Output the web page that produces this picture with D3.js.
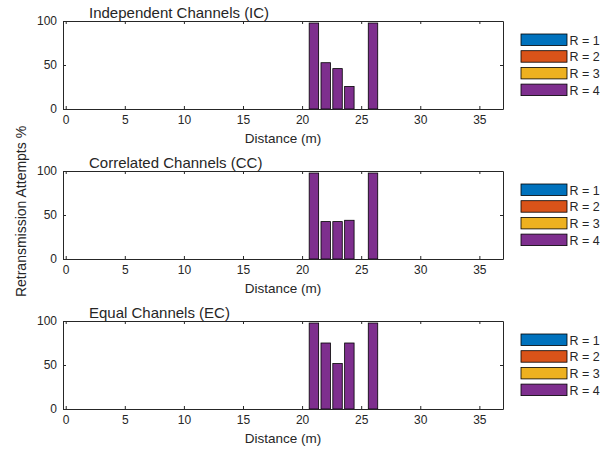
<!DOCTYPE html>
<html>
<head>
<meta charset="utf-8">
<script src="https://cdn.jsdelivr.net/npm/d3@7"></script>
<style>
  body { margin: 0; background: #fff; }
  text { font-family: "Liberation Sans", Arial, sans-serif; fill: #262626; }
  .tick text { font-size: 12px; }
  .domain, .tick line { stroke: #262626; }
</style>
</head>
<body>
<div id="chart"></div>
<script>
// data
var distances = [21, 22, 23, 24, 26];
var seriesNames = ["R = 1", "R = 2", "R = 3", "R = 4"];
var seriesColors = ["#0072BD", "#D95319", "#EDB120", "#7E2F8E"];
var titles = ["Independent Channels (IC)", "Correlated Channels (CC)", "Equal Channels (EC)"];

// R = 1..3 are zero everywhere, only R = 4 shows
var icR1 = [0, 0, 0, 0, 0], icR2 = [0, 0, 0, 0, 0], icR3 = [0, 0, 0, 0, 0];
var icR4 = [97.7, 52.6, 45.9, 25.6, 97.7];
var ccR1 = [0, 0, 0, 0, 0], ccR2 = [0, 0, 0, 0, 0], ccR3 = [0, 0, 0, 0, 0];
var ccR4 = [97.7, 42.5, 42.5, 44, 97.7];
var ecR1 = [0, 0, 0, 0, 0], ecR2 = [0, 0, 0, 0, 0], ecR3 = [0, 0, 0, 0, 0];
var ecR4 = [97.7, 75, 51.6, 75, 97.7];

var xTicks = [0, 5, 10, 15, 20, 25, 30, 35];
var yTicks = [0, 50, 100];

var panels = [
    [icR1, icR2, icR3, icR4],
    [ccR1, ccR2, ccR3, ccR4],
    [ecR1, ecR2, ecR3, ecR4]
];

var width = 613, height = 452;
var margin = {left: 63, right: 110};
var plotH = 88;
var tops = [21, 171, 321];
var barWidth = 0.8;

const svg = d3.select("#chart")
    .append("svg")
    .attr("width", width)
    .attr("height", height);

var xScale = d3.scaleLinear()
    .domain([-0.23, 37])
    .range([margin.left, width - margin.right]);

panels.forEach(function(series, p) {
    var top = tops[p];
    var yScale = d3.scaleLinear()
        .domain([0, 100])
        .range([top + plotH, top]);

    // build table for stacking
    var rows = distances.map(function(d, i) {
        var row = {dist: d};
        seriesNames.forEach(function(name, s) { row[name] = series[s][i]; });
        return row;
    });
    var stacked = d3.stack().keys(seriesNames)(rows);

    var g = svg.append("g");

    // bars
    stacked.forEach(function(layer, s) {
        g.selectAll(null)
            .data(layer.filter(function(d) { return d[1] - d[0] > 0; }))
            .enter()
            .append("rect")
            .attr("x", function(d) { return xScale(d.data.dist - barWidth / 2); })
            .attr("y", function(d) { return yScale(d[1]); })
            .attr("width", xScale(barWidth) - xScale(0))
            .attr("height", function(d) { return yScale(d[0]) - yScale(d[1]); })
            .attr("fill", seriesColors[s])
            .attr("stroke", "#000")
            .attr("stroke-width", 0.8);
    });

    // axes, ticks inward like matlab
    var x0 = xScale.range()[0], x1 = xScale.range()[1];
    g.append("g")
        .attr("transform", `translate(0, ${top + plotH})`)
        .call(d3.axisBottom(xScale).tickValues(xTicks).tickSizeInner(-3).tickSizeOuter(0).tickPadding(6));
    g.append("g")
        .attr("transform", `translate(0, ${top})`)
        .call(d3.axisTop(xScale).tickValues(xTicks).tickSizeInner(-3).tickSizeOuter(0).tickFormat(""));
    g.append("g")
        .attr("transform", `translate(${x0}, 0)`)
        .call(d3.axisLeft(yScale).tickValues(yTicks).tickSizeInner(-3).tickSizeOuter(0).tickPadding(6));
    g.append("g")
        .attr("transform", `translate(${x1}, 0)`)
        .call(d3.axisRight(yScale).tickValues(yTicks).tickSizeInner(-3).tickSizeOuter(0).tickFormat(""));

    g.selectAll(".domain").attr("stroke-width", 1);

    // title
    g.append("text")
        .attr("x", 89)
        .attr("y", top - 3)
        .style("font-size", "15px")
        .text(titles[p]);

    // x label
    g.append("text")
        .attr("x", (x0 + x1) / 2)
        .attr("y", top + plotH + 34)
        .attr("text-anchor", "middle")
        .style("font-size", "13.5px")
        .text("Distance (m)");

    // legend
    var leg = g.append("g")
        .attr("transform", `translate(521, ${top + 13})`);
    seriesNames.forEach(function(name, s) {
        leg.append("rect")
            .attr("x", 0)
            .attr("y", s * 16.7)
            .attr("width", 46)
            .attr("height", 11.5)
            .attr("fill", seriesColors[s])
            .attr("stroke", "#000")
            .attr("stroke-width", 0.8);
        leg.append("text")
            .attr("x", 48.5)
            .attr("y", s * 16.7 + 10.5)
            .style("font-size", "12.5px")
            .text(name);
    });
});

svg.append("text")
    .attr("transform", "rotate(-90)")
    .attr("x", -211.5)
    .attr("y", 26)
    .attr("text-anchor", "middle")
    .style("font-size", "14px")
    .text("Retransmission Attempts %");
</script>
</body>
</html>
